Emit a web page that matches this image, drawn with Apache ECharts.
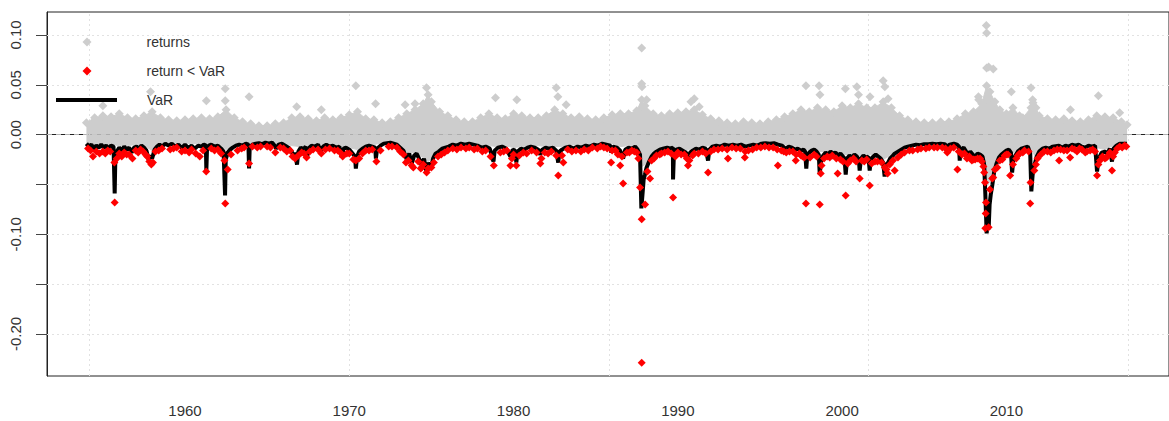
<!DOCTYPE html>
<html>
<head>
<meta charset="utf-8">
<script src="https://cdn.jsdelivr.net/npm/echarts@6/dist/echarts.min.js"></script>
<style>
html,body{margin:0;padding:0;background:#fff;}
#chart{width:1169px;height:421px;}
</style>
</head>
<body>
<div id="chart"></div>
<script>
// ---- axis ticks / labels ----
const xTicks = [1960, 1970, 1980, 1990, 2000, 2010];
const yTicks = [0.10, 0.05, 0.00, -0.05, -0.10, -0.15, -0.20];
const yLabels = [0.10, 0.05, 0.00, -0.10, -0.20];
const vGridYears = [1954.2, 1970.0, 1985.8, 2001.6, 2017.4];
const hGridVals = [0.10, 0.05, -0.05, -0.10, -0.15, -0.20];

// ---- dense cloud of returns (upper / lower envelope) ----
const cloudYears = [1954.0,1954.5,1955.0,1955.5,1956.0,1956.5,1957.0,1957.5,1958.0,1958.5,1959.0,1959.5,
  1960.0,1960.5,1961.0,1961.5,1962.0,1962.5,1963.0,1963.5,1964.0,1964.5,1965.0,1965.5,1966.0,1966.5,
  1967.0,1967.5,1968.0,1968.5,1969.0,1969.5,1970.0,1970.5,1971.0,1971.5,1972.0,1972.5,1973.0,1973.5,
  1974.0,1974.5,1974.8,1975.0,1975.5,1976.0,1976.5,1977.0,1977.5,1978.0,1978.5,1979.0,1979.5,1980.0,
  1980.5,1981.0,1981.5,1982.0,1982.5,1983.0,1983.5,1984.0,1984.5,1985.0,1985.5,1986.0,1986.5,1987.0,
  1987.5,1987.8,1988.0,1988.5,1989.0,1989.5,1990.0,1990.5,1991.0,1991.5,1992.0,1992.5,1993.0,1993.5,
  1994.0,1994.5,1995.0,1995.5,1996.0,1996.5,1997.0,1997.5,1998.0,1998.5,1999.0,1999.5,2000.0,2000.5,
  2001.0,2001.5,2002.0,2002.5,2003.0,2003.5,2004.0,2004.5,2005.0,2005.5,2006.0,2006.5,2007.0,2007.5,
  2008.0,2008.5,2008.8,2009.0,2009.3,2009.6,2010.0,2010.4,2010.8,2011.0,2011.5,2011.8,2012.0,2012.5,
  2013.0,2013.5,2014.0,2014.5,2015.0,2015.5,2016.0,2016.5,2017.0,2017.35];
const cloudTop = [0.012,0.017,0.019,0.018,0.021,0.017,0.016,0.019,0.023,0.017,0.015,0.014,
  0.015,0.016,0.017,0.016,0.018,0.025,0.017,0.013,0.011,0.009,0.009,0.011,0.012,0.017,
  0.018,0.016,0.014,0.017,0.015,0.017,0.020,0.023,0.016,0.015,0.012,0.013,0.017,0.021,
  0.025,0.031,0.040,0.033,0.023,0.019,0.015,0.013,0.013,0.017,0.021,0.017,0.016,0.021,
  0.019,0.017,0.017,0.019,0.025,0.021,0.017,0.018,0.016,0.015,0.017,0.020,0.021,0.021,
  0.024,0.035,0.029,0.021,0.019,0.021,0.022,0.023,0.025,0.020,0.016,0.014,0.012,0.011,
  0.013,0.012,0.011,0.013,0.015,0.018,0.021,0.025,0.023,0.027,0.025,0.023,0.029,0.027,
  0.031,0.027,0.027,0.033,0.027,0.019,0.015,0.013,0.012,0.012,0.013,0.013,0.016,0.021,
  0.023,0.031,0.049,0.043,0.033,0.025,0.021,0.027,0.019,0.017,0.027,0.027,0.019,0.016,
  0.015,0.016,0.014,0.013,0.015,0.019,0.018,0.017,0.013,0.010];
const cloudBottom = [-0.009,-0.010,-0.010,-0.010,-0.011,-0.011,-0.010,-0.011,-0.016,-0.009,-0.009,-0.009,
  -0.009,-0.009,-0.009,-0.009,-0.010,-0.015,-0.010,-0.009,-0.008,-0.008,-0.008,-0.009,-0.009,-0.011,
  -0.012,-0.011,-0.009,-0.010,-0.010,-0.012,-0.013,-0.015,-0.011,-0.010,-0.008,-0.008,-0.010,-0.018,
  -0.018,-0.023,-0.027,-0.024,-0.014,-0.010,-0.009,-0.008,-0.009,-0.010,-0.011,-0.012,-0.011,-0.013,
  -0.012,-0.011,-0.011,-0.012,-0.012,-0.012,-0.010,-0.011,-0.009,-0.009,-0.008,-0.009,-0.012,-0.011,
  -0.011,-0.032,-0.030,-0.018,-0.013,-0.012,-0.013,-0.016,-0.013,-0.012,-0.011,-0.010,-0.009,-0.009,
  -0.009,-0.009,-0.008,-0.008,-0.008,-0.010,-0.011,-0.013,-0.016,-0.017,-0.017,-0.018,-0.020,-0.020,
  -0.021,-0.021,-0.019,-0.025,-0.020,-0.015,-0.011,-0.009,-0.008,-0.008,-0.008,-0.009,-0.009,-0.015,
  -0.018,-0.020,-0.052,-0.047,-0.027,-0.019,-0.014,-0.019,-0.012,-0.011,-0.013,-0.024,-0.014,-0.011,
  -0.010,-0.010,-0.009,-0.009,-0.010,-0.013,-0.015,-0.011,-0.008,-0.008];

// ---- isolated large returns (grey) ----
const outYears = [1955.0,1957.9,1961.3,1962.45,1962.45,1963.9,1966.8,1968.3,1970.4,1971.6,1973.4,1974.0,
  1974.7,1978.9,1980.2,1982.6,1982.7,1983.2,1987.8,1987.8,1987.82,1988.1,1990.8,1991.0,1991.3,
  1997.8,1998.6,1998.65,2000.2,2000.9,2001.0,2001.7,2002.5,2002.6,2002.8,2008.3,2008.32,
  2008.78,2008.8,2008.8,2008.92,2009.2,2010.3,2011.5,2011.6,2011.62,2015.6,2013.9,2016.9];
const outVals = [0.029,0.043,0.034,0.046,0.034,0.038,0.028,0.025,0.049,0.031,0.030,0.031,
  0.047,0.037,0.035,0.047,0.038,0.030,0.087,0.051,0.048,0.035,0.033,0.036,0.028,
  0.049,0.049,0.040,0.046,0.048,0.040,0.038,0.054,0.048,0.036,0.038,0.035,
  0.1096,0.102,0.067,0.068,0.066,0.043,0.047,0.035,0.032,0.039,0.025,0.022];

// ---- VaR (black line) ----
const varYears = [1954.00,1954.15,1954.30,1954.45,1954.60,1954.75,1954.90,1955.05,1955.20,1955.35,1955.50,1955.65,
  1955.72,1955.76,1955.85,1956.00,1956.15,1956.30,1956.45,1956.60,1956.75,1956.90,1957.05,1957.20,1957.35,
  1957.50,1957.65,1957.80,1957.90,1958.00,1958.15,1958.30,1958.45,1958.60,1958.80,1959.00,1959.20,1959.40,
  1959.60,1959.80,1960.00,1960.20,1960.40,1960.60,1960.80,1961.00,1961.15,1961.27,1961.30,1961.34,1961.45,
  1961.60,1961.80,1962.00,1962.20,1962.35,1962.44,1962.48,1962.60,1962.75,1962.90,1963.10,1963.30,1963.50,
  1963.70,1963.86,1963.90,1963.94,1964.10,1964.30,1964.50,1964.70,1964.90,1965.10,1965.30,1965.45,1965.55,
  1965.70,1965.90,1966.10,1966.30,1966.50,1966.62,1966.70,1966.82,1966.90,1967.05,1967.20,1967.35,1967.43,
  1967.50,1967.70,1967.90,1968.10,1968.28,1968.40,1968.60,1968.80,1969.00,1969.20,1969.40,1969.55,1969.65,
  1969.80,1970.00,1970.20,1970.35,1970.40,1970.48,1970.60,1970.80,1971.00,1971.20,1971.40,1971.58,1971.62,
  1971.70,1971.90,1972.10,1972.30,1972.50,1972.70,1972.90,1973.10,1973.30,1973.50,1973.65,1973.80,1973.95,
  1974.10,1974.25,1974.41,1974.55,1974.71,1974.80,1974.95,1975.10,1975.25,1975.45,1975.65,1975.85,1976.05,
  1976.30,1976.55,1976.80,1977.05,1977.30,1977.55,1977.80,1978.05,1978.30,1978.55,1978.78,1978.85,1979.05,
  1979.30,1979.55,1979.81,1979.95,1980.10,1980.17,1980.25,1980.45,1980.65,1980.85,1981.05,1981.30,1981.50,
  1981.63,1981.75,1981.95,1982.15,1982.40,1982.60,1982.72,1982.80,1982.95,1983.15,1983.40,1983.65,1983.90,
  1984.15,1984.40,1984.65,1984.90,1985.15,1985.40,1985.65,1985.90,1985.94,1986.05,1986.30,1986.49,1986.67,
  1986.80,1987.00,1987.20,1987.40,1987.55,1987.70,1987.78,1987.85,1987.92,1988.00,1988.10,1988.25,1988.40,
  1988.55,1988.70,1988.90,1989.10,1989.35,1989.55,1989.70,1989.71,1989.76,1989.90,1990.10,1990.30,1990.50,
  1990.62,1990.75,1990.90,1991.10,1991.30,1991.50,1991.70,1991.84,1991.92,1992.10,1992.35,1992.60,1992.85,
  1993.10,1993.35,1993.60,1993.85,1994.10,1994.35,1994.60,1994.85,1995.10,1995.35,1995.60,1995.85,1996.10,
  1996.35,1996.55,1996.75,1996.95,1997.15,1997.30,1997.50,1997.65,1997.75,1997.82,1997.88,1998.00,1998.15,
  1998.30,1998.45,1998.58,1998.64,1998.72,1998.85,1999.00,1999.15,1999.30,1999.45,1999.60,1999.75,1999.90,
  2000.05,2000.15,2000.22,2000.30,2000.45,2000.60,2000.75,2000.90,2001.02,2001.07,2001.15,2001.30,2001.45,
  2001.60,2001.68,2001.75,2001.90,2002.05,2002.20,2002.35,2002.50,2002.59,2002.68,2002.80,2002.92,2003.05,
  2003.20,2003.40,2003.60,2003.80,2004.00,2004.25,2004.50,2004.75,2005.00,2005.25,2005.50,2005.75,2006.00,
  2006.25,2006.40,2006.55,2006.80,2007.00,2007.12,2007.16,2007.22,2007.40,2007.55,2007.65,2007.80,2007.95,
  2008.10,2008.25,2008.40,2008.55,2008.65,2008.72,2008.76,2008.80,2008.86,2008.92,2008.98,2009.05,2009.15,
  2009.25,2009.40,2009.55,2009.70,2009.85,2010.00,2010.15,2010.28,2010.35,2010.42,2010.55,2010.70,2010.90,
  2011.10,2011.30,2011.45,2011.52,2011.60,2011.72,2011.85,2012.00,2012.20,2012.40,2012.60,2012.80,2013.00,
  2013.20,2013.40,2013.60,2013.80,2014.00,2014.20,2014.40,2014.60,2014.80,2015.00,2015.20,2015.40,2015.52,
  2015.62,2015.80,2016.00,2016.15,2016.30,2016.43,2016.52,2016.70,2016.90,2017.10,2017.34];
const varVals = [-0.009,-0.012,-0.010,-0.014,-0.011,-0.013,-0.010,-0.013,-0.011,-0.014,-0.011,-0.012,
  -0.059,-0.024,-0.017,-0.013,-0.016,-0.012,-0.015,-0.013,-0.018,-0.013,-0.012,-0.014,-0.011,
  -0.013,-0.016,-0.026,-0.021,-0.024,-0.015,-0.012,-0.010,-0.012,-0.009,-0.011,-0.009,-0.012,
  -0.010,-0.013,-0.010,-0.013,-0.011,-0.014,-0.011,-0.012,-0.010,-0.011,-0.036,-0.015,-0.011,
  -0.010,-0.012,-0.011,-0.014,-0.017,-0.061,-0.025,-0.018,-0.015,-0.013,-0.011,-0.010,-0.011,
  -0.009,-0.010,-0.034,-0.013,-0.010,-0.009,-0.0085,-0.0095,-0.008,-0.009,-0.008,-0.011,-0.014,
  -0.010,-0.009,-0.011,-0.013,-0.017,-0.024,-0.018,-0.030,-0.017,-0.013,-0.015,-0.012,-0.024,
  -0.014,-0.011,-0.012,-0.010,-0.017,-0.012,-0.010,-0.012,-0.011,-0.013,-0.012,-0.023,-0.014,
  -0.013,-0.015,-0.019,-0.022,-0.034,-0.022,-0.017,-0.014,-0.012,-0.011,-0.012,-0.013,-0.024,
  -0.014,-0.011,-0.009,-0.0085,-0.008,-0.009,-0.010,-0.013,-0.016,-0.025,-0.019,-0.029,-0.021,
  -0.019,-0.024,-0.031,-0.024,-0.038,-0.028,-0.035,-0.024,-0.019,-0.017,-0.014,-0.013,-0.012,
  -0.010,-0.011,-0.009,-0.010,-0.009,-0.010,-0.011,-0.013,-0.012,-0.014,-0.027,-0.016,-0.013,
  -0.012,-0.014,-0.022,-0.015,-0.016,-0.028,-0.017,-0.014,-0.015,-0.013,-0.012,-0.013,-0.015,
  -0.020,-0.015,-0.013,-0.014,-0.013,-0.016,-0.028,-0.017,-0.015,-0.013,-0.012,-0.014,-0.012,
  -0.013,-0.011,-0.012,-0.010,-0.011,-0.009,-0.010,-0.011,-0.018,-0.012,-0.013,-0.016,-0.024,
  -0.015,-0.013,-0.014,-0.012,-0.015,-0.020,-0.074,-0.060,-0.045,-0.040,-0.033,-0.027,-0.022,
  -0.019,-0.017,-0.015,-0.014,-0.013,-0.014,-0.013,-0.045,-0.020,-0.015,-0.014,-0.016,-0.018,
  -0.024,-0.018,-0.016,-0.014,-0.015,-0.013,-0.014,-0.026,-0.015,-0.012,-0.011,-0.012,-0.010,
  -0.011,-0.010,-0.011,-0.010,-0.012,-0.011,-0.010,-0.011,-0.009,-0.0085,-0.009,-0.0085,-0.010,
  -0.011,-0.014,-0.012,-0.013,-0.015,-0.014,-0.016,-0.015,-0.017,-0.034,-0.021,-0.018,-0.016,
  -0.015,-0.017,-0.020,-0.040,-0.026,-0.021,-0.018,-0.020,-0.017,-0.019,-0.018,-0.021,-0.019,
  -0.022,-0.024,-0.040,-0.024,-0.021,-0.023,-0.020,-0.022,-0.025,-0.036,-0.024,-0.021,-0.023,
  -0.022,-0.036,-0.025,-0.022,-0.020,-0.022,-0.024,-0.028,-0.042,-0.030,-0.028,-0.024,-0.022,
  -0.019,-0.017,-0.015,-0.013,-0.012,-0.011,-0.010,-0.0105,-0.0095,-0.0095,-0.009,-0.0095,-0.009,
  -0.0095,-0.012,-0.010,-0.009,-0.010,-0.012,-0.026,-0.015,-0.013,-0.017,-0.021,-0.017,-0.020,
  -0.022,-0.019,-0.020,-0.022,-0.030,-0.060,-0.080,-0.099,-0.085,-0.095,-0.070,-0.060,-0.050,
  -0.038,-0.029,-0.023,-0.020,-0.018,-0.016,-0.015,-0.018,-0.038,-0.026,-0.021,-0.017,-0.014,
  -0.013,-0.012,-0.018,-0.057,-0.040,-0.030,-0.022,-0.017,-0.014,-0.013,-0.014,-0.012,-0.0115,
  -0.011,-0.013,-0.011,-0.012,-0.010,-0.011,-0.010,-0.012,-0.013,-0.011,-0.012,-0.011,-0.037,
  -0.024,-0.018,-0.017,-0.019,-0.014,-0.027,-0.014,-0.011,-0.009,-0.009,-0.009];

// ---- returns below VaR (red): large breaches ----
const redYears = [1955.72,1962.45,1961.29,1963.90,1957.83,1957.95,1970.40,1974.71,1974.41,1973.80,1979.81,1980.17,
  1981.63,1982.72,1983.03,1985.94,1986.49,1986.67,1987.70,1987.80,1987.80,1988.01,1988.31,1989.71,1990.62,
  1991.84,1993.05,1994.08,1996.09,1997.18,1997.80,1998.64,1998.70,1999.73,2000.22,2001.07,2001.68,2002.77,
  2003.20,2007.02,2008.72,2008.92,2008.74,2008.76,2008.70,2009.14,2010.23,2011.45,2011.47,2013.21,2013.88,
  2015.52,2016.43];
const redVals = [-0.068,-0.069,-0.037,-0.029,-0.027,-0.030,-0.026,-0.038,-0.033,-0.031,-0.031,-0.031,
  -0.029,-0.041,-0.028,-0.028,-0.031,-0.049,-0.053,-0.2290,-0.085,-0.070,-0.044,-0.063,-0.031,
  -0.038,-0.024,-0.023,-0.031,-0.026,-0.069,-0.070,-0.039,-0.039,-0.061,-0.044,-0.051,-0.039,
  -0.036,-0.035,-0.094,-0.093,-0.079,-0.068,-0.048,-0.044,-0.041,-0.069,-0.048,-0.026,-0.023,
  -0.041,-0.036];

// ---- returns below VaR (red): small breaches hugging the VaR line ----
const fringeYears = [1954.1,1954.25,1954.4,1954.6,1954.8,1955.0,1955.15,1955.3,1955.45,1955.7,1955.85,1956.0,
  1956.15,1956.3,1956.45,1956.6,1956.8,1957.0,1957.15,1957.3,1957.45,1957.6,1957.7,1958.05,1958.2,1958.4,
  1958.6,1959.1,1959.3,1959.5,1959.8,1960.0,1960.25,1960.4,1960.65,1960.9,1961.1,1961.6,1961.8,1962.0,
  1962.2,1962.4,1962.6,1962.8,1963.2,1963.45,1963.6,1964.1,1964.4,1964.6,1965.0,1965.2,1965.5,1965.8,
  1966.0,1966.2,1966.4,1966.55,1966.7,1966.9,1967.1,1967.25,1967.4,1967.6,1967.8,1968.1,1968.3,1968.55,
  1968.8,1969.1,1969.3,1969.45,1969.6,1969.85,1970.0,1970.25,1970.6,1970.8,1971.0,1971.2,1971.4,1971.65,
  1971.9,1972.4,1972.6,1972.9,1973.1,1973.3,1973.45,1973.6,1973.9,1974.2,1974.35,1974.5,1974.8,1975.0,
  1975.15,1975.4,1975.6,1975.8,1976.0,1976.3,1976.55,1976.8,1977.1,1977.3,1977.6,1977.8,1978.1,1978.3,
  1978.6,1978.8,1979.2,1979.4,1979.6,1979.9,1980.0,1980.35,1980.6,1980.8,1981.1,1981.4,1981.7,1981.9,
  1982.1,1982.3,1982.6,1982.95,1983.3,1983.55,1983.8,1984.1,1984.3,1984.55,1984.8,1985.1,1985.3,1985.5,
  1985.7,1986.0,1986.2,1986.35,1986.6,1986.9,1987.05,1987.2,1987.35,1987.5,1987.6,1988.15,1988.4,1988.55,
  1988.7,1988.9,1989.0,1989.2,1989.4,1989.6,1989.85,1990.0,1990.2,1990.4,1990.55,1990.7,1990.9,1991.0,
  1991.25,1991.5,1991.7,1992.0,1992.2,1992.45,1992.7,1993.0,1993.3,1993.55,1993.8,1994.1,1994.3,1994.55,
  1994.8,1995.05,1995.3,1995.55,1995.8,1996.05,1996.3,1996.45,1996.6,1996.8,1997.0,1997.2,1997.4,1997.5,
  1997.6,1997.7,1998.05,1998.3,1998.45,1998.75,1998.9,1999.1,1999.25,1999.4,1999.65,1999.9,2000.05,
  2000.35,2000.5,2000.7,2000.85,2001.2,2001.35,2001.5,2001.8,2002.0,2002.15,2002.4,2002.6,2002.7,2002.9,
  2003.1,2003.4,2003.6,2003.8,2004.1,2004.3,2004.6,2004.8,2005.1,2005.3,2005.6,2005.8,2006.1,2006.3,
  2006.4,2006.6,2006.8,2007.1,2007.3,2007.45,2007.6,2007.75,2007.9,2008.0,2008.1,2008.25,2008.4,2008.5,
  2008.6,2008.65,2009.0,2009.2,2009.3,2009.45,2009.6,2009.75,2009.9,2010.0,2010.1,2010.4,2010.6,2010.7,
  2010.8,2011.0,2011.1,2011.35,2011.7,2011.8,2011.9,2012.1,2012.3,2012.5,2012.7,2012.9,2013.1,2013.3,
  2013.5,2013.7,2014.0,2014.15,2014.3,2014.45,2014.6,2014.8,2014.9,2015.1,2015.25,2015.4,2015.6,2015.7,
  2015.85,2016.0,2016.1,2016.2,2016.3,2016.5,2016.6,2016.75,2016.9,2017.05,2017.2,2017.3];
const fringeVals = [-0.014,-0.016,-0.022,-0.017,-0.019,-0.017,-0.019,-0.016,-0.017,-0.028,-0.024,-0.019,
  -0.022,-0.018,-0.020,-0.020,-0.024,-0.016,-0.018,-0.015,-0.017,-0.020,-0.022,-0.028,-0.017,-0.016,
  -0.014,-0.015,-0.014,-0.013,-0.017,-0.016,-0.018,-0.015,-0.019,-0.022,-0.016,-0.014,-0.016,-0.015,
  -0.019,-0.026,-0.035,-0.020,-0.016,-0.014,-0.013,-0.012,-0.013,-0.012,-0.012,-0.013,-0.018,-0.013,
  -0.014,-0.017,-0.016,-0.022,-0.024,-0.021,-0.018,-0.019,-0.023,-0.017,-0.015,-0.015,-0.019,-0.015,
  -0.014,-0.016,-0.016,-0.018,-0.022,-0.019,-0.019,-0.025,-0.024,-0.019,-0.016,-0.016,-0.015,-0.027,
  -0.016,-0.012,-0.012,-0.013,-0.017,-0.020,-0.028,-0.026,-0.033,-0.027,-0.034,-0.030,-0.034,-0.033,
  -0.028,-0.022,-0.020,-0.018,-0.016,-0.014,-0.015,-0.013,-0.014,-0.013,-0.015,-0.014,-0.017,-0.016,
  -0.022,-0.031,-0.018,-0.017,-0.016,-0.024,-0.020,-0.021,-0.018,-0.019,-0.016,-0.018,-0.024,-0.018,
  -0.019,-0.017,-0.021,-0.021,-0.015,-0.017,-0.016,-0.017,-0.015,-0.016,-0.013,-0.014,-0.012,-0.013,
  -0.014,-0.016,-0.016,-0.020,-0.022,-0.018,-0.018,-0.016,-0.017,-0.018,-0.024,-0.037,-0.026,-0.024,
  -0.021,-0.020,-0.019,-0.018,-0.017,-0.019,-0.022,-0.018,-0.020,-0.020,-0.024,-0.026,-0.021,-0.019,
  -0.019,-0.017,-0.019,-0.017,-0.015,-0.015,-0.014,-0.015,-0.013,-0.014,-0.014,-0.017,-0.016,-0.015,
  -0.013,-0.013,-0.012,-0.013,-0.013,-0.015,-0.016,-0.017,-0.018,-0.017,-0.017,-0.020,-0.019,-0.021,
  -0.022,-0.023,-0.023,-0.020,-0.022,-0.031,-0.024,-0.022,-0.023,-0.021,-0.024,-0.025,-0.027,
  -0.029,-0.026,-0.024,-0.027,-0.026,-0.027,-0.025,-0.029,-0.027,-0.027,-0.028,-0.033,-0.035,-0.030,
  -0.026,-0.023,-0.020,-0.018,-0.016,-0.016,-0.015,-0.014,-0.014,-0.013,-0.013,-0.013,-0.013,-0.014,
  -0.018,-0.014,-0.013,-0.017,-0.020,-0.019,-0.024,-0.022,-0.026,-0.025,-0.025,-0.024,-0.024,-0.027,
  -0.032,-0.038,-0.055,-0.043,-0.035,-0.033,-0.026,-0.025,-0.021,-0.020,-0.020,-0.030,-0.024,-0.021,
  -0.019,-0.018,-0.016,-0.017,-0.036,-0.030,-0.024,-0.020,-0.017,-0.017,-0.018,-0.016,-0.015,-0.015,
  -0.016,-0.016,-0.014,-0.015,-0.017,-0.014,-0.015,-0.018,-0.017,-0.016,-0.015,-0.017,-0.030,-0.026,
  -0.022,-0.024,-0.023,-0.021,-0.018,-0.022,-0.018,-0.014,-0.012,-0.013,-0.011,-0.012];

// ---- build chart ----
const zip = (a, b) => a.map((v, i) => [v, b[i]]);
const GREY = '#cdcdcd';
const RED = '#ff0000';
const FONT = 'Liberation Sans, Arial, sans-serif';

const chart = echarts.init(document.getElementById('chart'), null, {renderer: 'svg'});
const option = {
  animation: false,
  textStyle: {fontFamily: FONT},
  grid: {left: 47, top: 12, width: 1125, height: 364, show: true, borderColor: '#222', borderWidth: 1, backgroundColor: '#fff'},
  xAxis: {
    type: 'value', min: 1951.6, max: 2019.9,
    axisLine: {show: true, lineStyle: {color: '#222', width: 1}},
    axisTick: {show: true, customValues: xTicks, length: 10, lineStyle: {color: '#444'}},
    axisLabel: {customValues: xTicks, margin: 27, fontSize: 15, color: '#333', fontFamily: FONT,
      formatter: v => String(v)},
    splitLine: {show: false}
  },
  yAxis: {
    type: 'value', min: -0.2422, max: 0.1231,
    axisLine: {show: true, lineStyle: {color: '#222', width: 1}},
    axisTick: {show: true, customValues: yTicks, length: 11, lineStyle: {color: '#444'}},
    axisLabel: {customValues: yLabels, rotate: 90, margin: 24, fontSize: 15, color: '#333', fontFamily: FONT,
      formatter: v => v.toFixed(2)},
    splitLine: {show: false}
  },
  legend: [
    {data: [{name: 'returns', icon: 'diamond', itemStyle: {color: GREY}}], left: 82.5, top: 34, padding: 0,
      itemWidth: 9, itemHeight: 9, selectedMode: false,
      textStyle: {fontSize: 14, color: '#333', fontFamily: FONT, padding: [0, 0, 0, 50], lineHeight: 16}},
    {data: [{name: 'return < VaR', icon: 'diamond', itemStyle: {color: RED}}], left: 82.5, top: 63, padding: 0,
      itemWidth: 9, itemHeight: 9, selectedMode: false,
      textStyle: {fontSize: 14, color: '#333', fontFamily: FONT, padding: [0, 0, 0, 50], lineHeight: 16}},
    {data: [{name: 'VaR', icon: 'rect', itemStyle: {color: '#000'}}], left: 56, top: 92, padding: 0,
      itemWidth: 61, itemHeight: 4, selectedMode: false,
      textStyle: {fontSize: 14, color: '#333', fontFamily: FONT, padding: [0, 0, 0, 25], lineHeight: 16}}
  ],
  series: [
    {
      name: 'grid', type: 'line', data: [], z: 1, silent: true,
      markLine: {
        silent: true, symbol: 'none', z: 1, label: {show: false},
        data: [
          ...vGridYears.map(v => ({xAxis: v, lineStyle: {color: '#e2e2e2', type: [2, 3], width: 1}})),
          ...hGridVals.map(v => ({yAxis: v, lineStyle: {color: '#e2e2e2', type: [2, 3], width: 1}})),
          {yAxis: 0, lineStyle: {color: '#b0b0b0', type: [5, 4], width: 1}}
        ]
      }
    },
    {
      name: 'returns', type: 'line', data: zip(cloudYears, cloudTop), z: 2,
      symbol: 'diamond', symbolSize: 9, showSymbol: true, showAllSymbol: true,
      itemStyle: {color: GREY, opacity: 1}, lineStyle: {color: GREY, width: 1},
      areaStyle: {color: GREY, opacity: 1}, silent: true
    },
    {
      name: 'returns', type: 'line', data: zip(cloudYears, cloudBottom), z: 2,
      showSymbol: false, lineStyle: {color: GREY, width: 1},
      areaStyle: {color: GREY, opacity: 1}, silent: true
    },
    {
      name: 'returns', type: 'scatter', data: zip(outYears, outVals), z: 3,
      symbol: 'diamond', symbolSize: 9, itemStyle: {color: GREY, opacity: 1}
    },
    {
      name: 'VaR', type: 'line', data: zip(varYears, varVals), z: 4,
      showSymbol: false, lineStyle: {color: '#000', width: 4}, itemStyle: {color: '#000'}
    },
    {
      name: 'return < VaR', type: 'scatter', data: zip(redYears, redVals), z: 5,
      symbol: 'diamond', symbolSize: 8, itemStyle: {color: RED, opacity: 1}
    },
    {
      name: 'return < VaR', type: 'scatter', data: zip(fringeYears, fringeVals), z: 5,
      symbol: 'diamond', symbolSize: 8, itemStyle: {color: RED, opacity: 1}
    }
  ]
};
chart.setOption(option);
</script>
</body>
</html>
